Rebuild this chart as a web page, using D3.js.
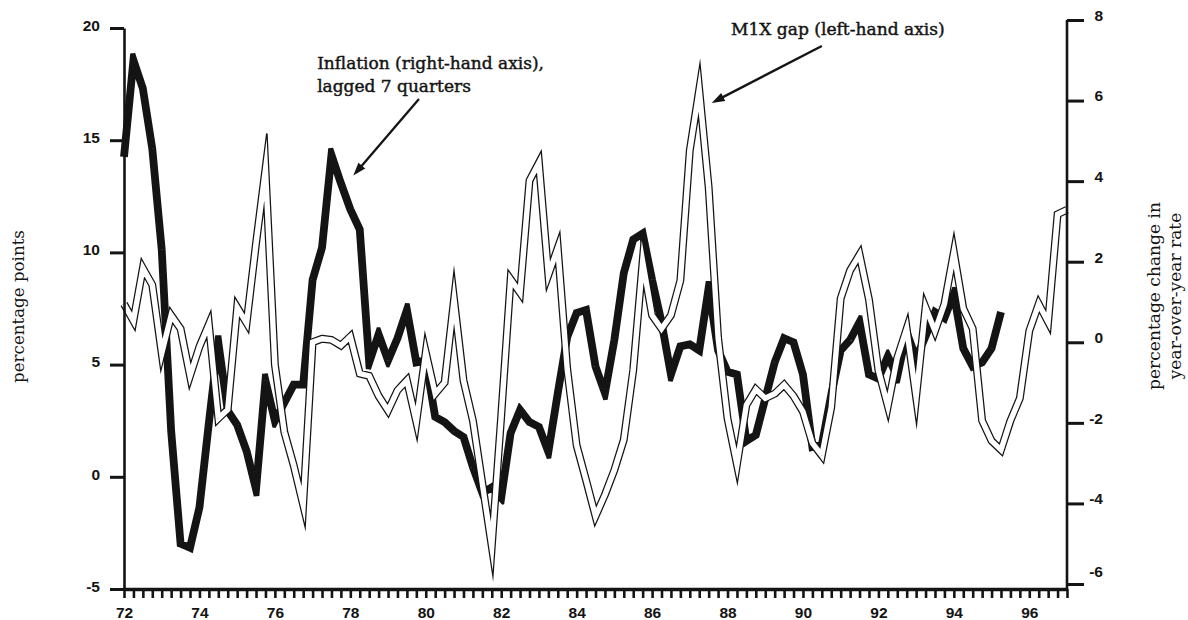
<!DOCTYPE html>
<html><head><meta charset="utf-8">
<script src="https://cdn.jsdelivr.net/npm/d3@7"></script>
<style>
html,body{margin:0;padding:0;background:#fff;}
svg{display:block;}
</style></head>
<body>
<svg id="chart" width="1188" height="620"></svg>
<script>
// ---- data (quarterly, first point = 1972 Q1) ----
const startYear = 1972;
const m1xGap = [7.7, 6.95, 9.3, 8.55, 5.5, 7.2, 6.6, 4.5, 5.8, 6.8,
 2.6, 3.0, 7.55, 6.85, 10.4, 13.7, 5.0, 2.0, 0.5, -1.25,
 6.0, 6.15, 6.1, 5.85, 6.25, 4.6, 4.5, 3.6, 2.95, 3.85,
 4.3, 2.45, 5.55, 3.7, 4.2, 7.9, 4.3, 2.5, -0.3, -3.1,
 2.7, 8.8, 8.2, 13.2, 14.0, 9.0, 10.2, 4.8, 1.4, -0.15,
 -1.75, -0.8, 0.3, 1.65, 4.75, 9.6, 7.2, 6.6, 7.2, 8.75,
 14.55, 17.25, 12.9, 6.2, 2.6, 0.55, 3.2, 3.9, 3.5, 3.7,
 4.1, 3.6, 2.9, 1.5, 0.95, 3.1, 7.95, 9.2, 9.9, 7.9,
 4.75, 3.15, 5.3, 6.6, 3.55, 7.55, 6.5, 7.7, 10.0, 7.5,
 6.6, 2.5, 1.6, 1.2, 2.5, 3.5, 6.5, 7.7, 6.9, 11.7, 11.9];
const inflation = [4.6, 7.0, 6.3, 4.8, 2.3, -2.2, -5.0, -5.1, -4.1, -2.0,
 0.0, -1.7, -2.05, -2.7, -3.65, -0.95, -1.95, -1.5, -1.05, -1.05,
 1.55, 2.35, 4.65, 3.95, 3.3, 2.8, -0.5, 0.2, -0.45, 0.1,
 0.8, -0.5, -0.45, -1.85, -1.98, -2.2, -2.35, -3.1, -3.74, -3.6,
 -3.86, -2.25, -1.68, -1.98, -2.1, -2.72, -1.26, 0.13, 0.73, 0.8,
 -0.6, -1.26, 0.06, 1.72, 2.55, 2.7, 1.55, 0.5, -0.8, -0.1,
 -0.05, -0.2, 1.35, -0.2, -0.73, -0.8, -2.45, -2.3, -1.4, -0.5,
 0.1, 0.0, -0.8, -2.6, -2.55, -1.3, -0.2, 0.06, 0.5, -0.8,
 -0.9, -0.35, -0.85, 0.25, -0.4, 0.15, 0.75, 0.6, 1.2, -0.15,
 -0.6, -0.5, -0.15, 0.75];
const leftTicks = [-5, 0, 5, 10, 15, 20];
const rightTicks = [-6, -4, -2, 0, 2, 4, 6, 8];
const yearTicks = [1972, 1974, 1976, 1978, 1980, 1982, 1984, 1986, 1988, 1990, 1992, 1994, 1996];
const yearLabels = ["72", "74", "76", "78", "80", "82", "84", "86", "88", "90", "92", "94", "96"];
const leftTitle = "percentage points";
const rightTitle = ["percentage change in", "year-over-year rate"];
const inflLabel = ["Inflation (right-hand axis),", "lagged 7 quarters"];
const m1xLabel = "M1X gap (left-hand axis)";

// ---- scales ----
const svg = d3.select("#chart");
const x = d3.scaleLinear().domain([1972, 1997]).range([124, 1067]);
const yL = d3.scaleLinear().domain([-5, 20]).range([589, 28]);
const yR = d3.scaleLinear().domain([-6, 8]).range([584, 20]);
const INK = "#141414";
const quarterDate = i => startYear + i / 4;
const plainNum = d => String(d); // hyphen-minus like the original

// stroke outline with clipped-miter joins, built as a union of polygons
function strokeOutline(pts, hw, clip) {
  const polys = [], segs = [];
  for (let k = 0; k < pts.length - 1; k++) {
    const [x0, y0] = pts[k], [x1, y1] = pts[k + 1];
    const len = Math.hypot(x1 - x0, y1 - y0);
    const ux = (x1 - x0) / len, uy = (y1 - y0) / len, nx = -uy, ny = ux;
    segs.push({ux, uy, nx, ny});
    polys.push([[x0 + nx * hw, y0 + ny * hw], [x1 + nx * hw, y1 + ny * hw],
                [x1 - nx * hw, y1 - ny * hw], [x0 - nx * hw, y0 - ny * hw]]);
  }
  for (let k = 1; k < pts.length - 1; k++) {
    const s1 = segs[k - 1], s2 = segs[k];
    const [px, py] = pts[k];
    const cross = s1.ux * s2.uy - s1.uy * s2.ux;
    if (Math.abs(cross) < 1e-9 && s1.ux * s2.ux + s1.uy * s2.uy > 0) continue;
    const s = (s2.ux * s1.nx + s2.uy * s1.ny) > 0 ? -1 : 1;
    const ax = px + s * s1.nx * hw, ay = py + s * s1.ny * hw;
    const bx = px + s * s2.nx * hw, by = py + s * s2.ny * hw;
    let mx = s * (s1.nx + s2.nx), my = s * (s1.ny + s2.ny);
    const m0 = Math.hypot(mx, my);
    if (m0 < 1e-9) { polys.push([[px, py], [ax, ay], [bx, by]]); continue; }
    mx /= m0; my /= m0;
    const cosH = mx * s * s1.nx + my * s * s1.ny;
    const ml = hw / cosH;
    const Mx = px + mx * ml, My = py + my * ml;
    if (ml <= clip) polys.push([[px, py], [ax, ay], [Mx, My], [bx, by]]);
    else {
      const pa = hw * cosH;
      const t = (clip - pa) / (ml - pa);
      polys.push([[px, py], [ax, ay], [ax + t * (Mx - ax), ay + t * (My - ay)],
                  [bx + t * (Mx - bx), by + t * (My - by)], [bx, by]]);
    }
  }
  return polys.map(p => {
    if (d3.polygonArea(p) < 0) p = p.slice().reverse();
    return "M" + p.map(q => q[0].toFixed(2) + "," + q[1].toFixed(2)).join("L") + "Z";
  }).join("");
}

// ---- series ----
const inflPts = inflation.map((v, i) => [x(quarterDate(i)), yR(v)]);
const m1xPts = m1xGap.map((v, i) => [x(quarterDate(i)), yL(v)]);

svg.append("path").attr("d", strokeOutline(inflPts, 3.9, 7)).attr("fill", INK);
svg.append("path").attr("d", strokeOutline(m1xPts, 3.95, 36)).attr("fill", INK);
svg.append("path").attr("d", strokeOutline(m1xPts, 2.7, 34.6)).attr("fill", "#fff");

// ---- axes ----
const tickFont = "'Liberation Sans', Arial, sans-serif";
const gL = svg.append("g").attr("transform", `translate(${x(1972)},0)`)
  .call(d3.axisLeft(yL).tickValues(leftTicks).tickSize(14).tickSizeOuter(0).tickPadding(10).tickFormat(plainNum));
gL.select(".domain").attr("stroke", INK).attr("stroke-width", 2.6);
gL.selectAll(".tick line").attr("stroke", INK).attr("stroke-width", 3);
gL.selectAll(".tick text").attr("fill", INK).attr("font-family", tickFont)
  .attr("font-size", 15.5).attr("font-weight", "bold").attr("dy", "0.15em");

// right axis
svg.append("line").attr("x1", x(1997)).attr("x2", x(1997))
  .attr("y1", yL(-5)).attr("y2", yR(8)).attr("stroke", INK).attr("stroke-width", 2.6);
const gR = svg.append("g").attr("transform", `translate(${x(1997)},0)`)
  .call(d3.axisRight(yR).tickValues(rightTicks).tickSize(17).tickSizeOuter(0).tickFormat(plainNum));
gR.select(".domain").remove();
gR.selectAll(".tick line").attr("stroke", INK).attr("stroke-width", 3);
gR.selectAll(".tick text").attr("fill", INK).attr("font-family", tickFont)
  .attr("font-size", 15.5).attr("font-weight", "bold")
  .attr("text-anchor", "end").attr("x", 36)
  .attr("dy", d => d === -6 ? "-0.5em" : "0.02em");

// bottom axis with quarterly ticks
const quarters = d3.range(0, 101).map(quarterDate);
const gB = svg.append("g").attr("transform", `translate(0,${yL(-5)})`)
  .call(d3.axisBottom(x).tickValues(quarters).tickSize(9).tickSizeOuter(0).tickFormat(""));
gB.select(".domain").attr("stroke", INK).attr("stroke-width", 3.6);
gB.selectAll(".tick line").attr("stroke", INK).attr("stroke-width", 2.6);
const gB2 = svg.append("g").attr("transform", `translate(0,${yL(-5)})`)
  .call(d3.axisBottom(x).tickValues(yearTicks).tickSize(0).tickPadding(18)
    .tickFormat((d, i) => yearLabels[i]));
gB2.select(".domain").remove();
gB2.selectAll(".tick text").attr("fill", INK).attr("font-family", tickFont)
  .attr("font-size", 15.5).attr("font-weight", "bold");

// ---- titles ----
const serif = "'DejaVu Serif', 'Liberation Serif', serif";
function fit(sel, target) {
  const w = sel.node().getComputedTextLength();
  const fs = parseFloat(sel.attr("font-size"));
  sel.attr("font-size", fs * target / w);
  return fs * target / w;
}
const lt = svg.append("text").text(leftTitle)
  .attr("transform", "translate(24,306.5) rotate(-90)")
  .attr("text-anchor", "middle").attr("font-family", serif).attr("font-size", 16).attr("fill", INK);
fit(lt, 153);
const rt1 = svg.append("text").text(rightTitle[0])
  .attr("transform", "translate(1160,296) rotate(-90)")
  .attr("text-anchor", "middle").attr("font-family", serif).attr("font-size", 16).attr("fill", INK);
const rfs = fit(rt1, 188);
svg.append("text").text(rightTitle[1])
  .attr("transform", "translate(1181,296) rotate(-90)")
  .attr("text-anchor", "middle").attr("font-family", serif).attr("font-size", rfs).attr("fill", INK);

// ---- annotations ----
function bolden(sel) { return sel.attr("stroke", INK).attr("stroke-width", 0.45).attr("paint-order", "stroke"); }
const a1 = svg.append("text").text(inflLabel[0])
  .attr("x", x(1977.12)).attr("y", yR(6.78))
  .attr("font-family", serif).attr("font-size", 16).attr("fill", INK);
const afs = fit(a1, 227);
bolden(a1);
bolden(svg.append("text").text(inflLabel[1])
  .attr("x", x(1977.12)).attr("y", yR(6.21))
  .attr("font-family", serif).attr("font-size", afs).attr("fill", INK));
const a2 = svg.append("text").text(m1xLabel)
  .attr("x", x(1988.09)).attr("y", yL(19.69))
  .attr("font-family", serif).attr("font-size", 16).attr("fill", INK);
fit(a2, 214);
bolden(a2);

function arrow(p0, p1) {
  const dx = p1[0] - p0[0], dy = p1[1] - p0[1], len = Math.hypot(dx, dy);
  const ux = dx / len, uy = dy / len, head = 13, half = 4.5;
  const bx = p1[0] - ux * head, by = p1[1] - uy * head;
  svg.append("line").attr("x1", p0[0]).attr("y1", p0[1]).attr("x2", bx + ux * 2).attr("y2", by + uy * 2)
    .attr("stroke", INK).attr("stroke-width", 2.3);
  svg.append("path").attr("d", `M${p1[0]},${p1[1]}L${bx - uy * half},${by + ux * half}L${bx + uy * half},${by - ux * half}Z`)
    .attr("fill", INK);
}
arrow([x(1979.82), yR(6.04)], [x(1978.08), yR(4.14)]);
arrow([x(1990.5), yL(19.2)], [x(1987.58), yL(16.66)]);
</script>
</body></html>
